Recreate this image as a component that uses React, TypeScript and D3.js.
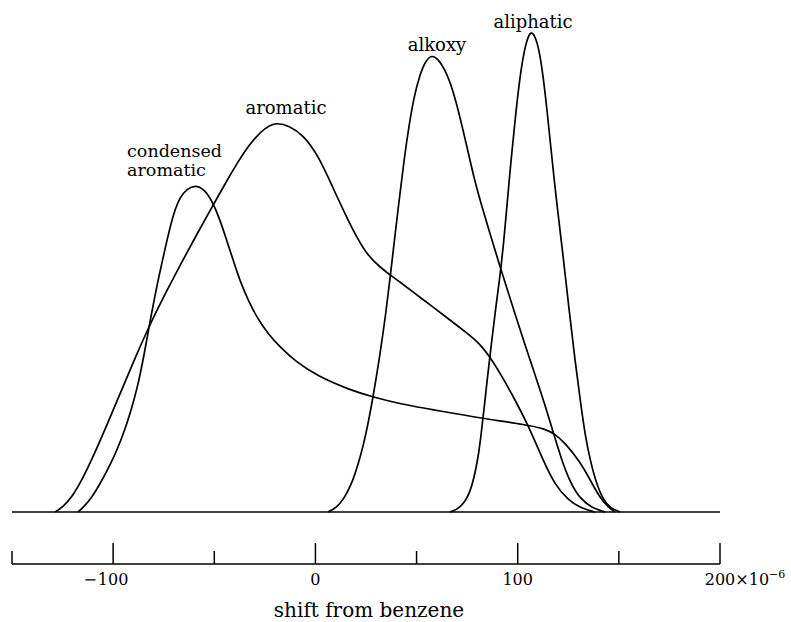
import * as d3 from 'd3';

// shift values (x 10^-6) and relative intensity
const condensedShift = [-117.4, -114.5, -110.4, -106.5, -101.5, -98.1, -94.6, -91.2, -87.7, -84.7, -81.8, -78.8, -75.8, -72.8, -69.9, -66.9, -63.5, -59.5, -55.0, -51.1, -47.7, -44.2, -40.7, -37.3, -33.3, -28.8, -23.4, -17.5, -10.1, 0.8, 17.1, 28.5, 41.8, 61.6, 81.4, 105.1, 113.5, 118.4, 123.4, 130.9, 135.8, 140.7, 144.7, 148.1];
const condensedValue = [0, 1, 3, 5.6, 9.4, 12.4, 16, 20.2, 25.4, 31.4, 38, 44.4, 50, 55.4, 60, 63, 64.6, 65.4, 64.6, 62.2, 59, 54.8, 50.4, 46.2, 42.4, 38.8, 35.6, 33, 30.2, 27.2, 24.4, 23, 21.6, 20.2, 18.8, 17.4, 16.6, 15.6, 13.8, 10, 6.4, 2.8, 1, 0];

const aromaticShift = [-128.7, -124.8, -120.3, -115.4, -109.5, -103.1, -96.6, -89.2, -80.8, -72.8, -65.5, -58.0, -51.1, -44.7, -37.3, -29.9, -21.0, -12.6, -6.1, 1.3, 8.7, 15.6, 20.6, 26.0, 31.9, 36.9, 41.8, 50.2, 58.1, 66.5, 74.9, 81.4, 86.3, 92.7, 98.7, 105.1, 112.5, 118.4, 125.0, 130.9, 138.2];
const aromaticValue = [0, 1, 3, 6.4, 11.4, 17.4, 23.6, 30.8, 38.4, 44.8, 50.4, 56, 61, 65.6, 70.8, 75, 78.2, 77.2, 75.4, 71.4, 64.8, 58.8, 54.8, 51.2, 49, 47.4, 46, 43.4, 41, 38.4, 35.8, 33.6, 31, 26.8, 22.4, 17.4, 10.4, 5.4, 2.4, 0.8, 0];

const alkoxyShift = [6.2, 10.2, 14.1, 18.1, 21.0, 23.5, 26.0, 28.5, 31.9, 34.9, 36.9, 38.9, 41.4, 43.8, 46.3, 48.7, 51.7, 54.7, 57.6, 60.6, 63.6, 66.6, 69.6, 72.5, 75.5, 78.4, 81.9, 85.8, 89.8, 93.8, 98.7, 103.6, 108.6, 113.5, 117.5, 121.4, 125.8, 130.9, 136.8, 143.2];
const alkoxyValue = [0, 0.8, 2.6, 5.8, 9.4, 13, 17.6, 23, 31.4, 40, 46.8, 53.8, 62.4, 70.4, 77.4, 83, 87.6, 90.4, 91.4, 90.6, 88.8, 86, 82, 77.2, 72, 66.8, 61.6, 56.4, 51, 45.8, 39.6, 33.4, 27.4, 21.4, 16, 10.8, 6, 2.6, 0.8, 0];

const aliphaticShift = [66.5, 70.5, 73.9, 76.4, 78.4, 80.4, 81.9, 83.4, 84.9, 86.8, 88.8, 91.2, 93.2, 94.7, 96.7, 98.7, 100.6, 102.6, 104.6, 106.6, 108.6, 110.6, 112.5, 114.5, 117.0, 119.4, 122.4, 125.4, 128.3, 130.9, 133.3, 135.8, 138.8, 142.3, 145.7, 150.6];
const aliphaticValue = [0, 0.6, 2, 4, 6.8, 10.8, 15.4, 20.8, 26.4, 33, 39.8, 47, 54.4, 61.4, 70.4, 78.4, 85.4, 91, 94.6, 96.2, 95.2, 92.4, 87.4, 80.4, 70.4, 61.4, 51.4, 40.4, 30.4, 22.4, 15.4, 10.4, 5.8, 2.4, 0.8, 0];

const shiftTicks = [-150, -100, -50, 0, 50, 100, 150, 200];
const labelledTicks = [-100, 0, 100, 200];

const font = '"DejaVu Serif", serif';

export default function App() {
  const width = 791;
  const height = 622;

  const x = d3.scaleLinear().domain([-150, 200]).range([12, 720]);
  const y = d3.scaleLinear().domain([0, 100]).range([512, 12]);

  const line = d3
    .line<[number, number]>()
    .x(d => x(d[0]))
    .y(d => y(d[1]))
    .curve(d3.curveBasis);

  const curves = [
    d3.zip(condensedShift, condensedValue),
    d3.zip(aromaticShift, aromaticValue),
    d3.zip(alkoxyShift, alkoxyValue),
    d3.zip(aliphaticShift, aliphaticValue),
  ] as [number, number][][];

  const peak = (s: number[], v: number[]) => {
    const i = d3.maxIndex(v);
    return [x(s[i]), y(v[i])];
  };
  const [alkX, alkY] = peak(alkoxyShift, alkoxyValue);
  const [aliX, aliY] = peak(aliphaticShift, aliphaticValue);
  const [aroX, aroY] = peak(aromaticShift, aromaticValue);
  const [conX, conY] = peak(condensedShift, condensedValue);

  const axisY = 564;
  const digitHalf = 15.3;

  return (
    <svg width={width} height={height} style={{ position: 'absolute', left: 0, top: 0, background: '#fff' }}>
      {/* baseline */}
      <line x1={x(-150)} x2={x(200)} y1={y(0)} y2={y(0)} stroke="#000" strokeWidth={1.5} />
      {curves.map((c, i) => (
        <path key={i} d={line(c) || ''} fill="none" stroke="#000" strokeWidth={1.7} />
      ))}

      <g fontFamily={font} fontSize={18} fill="#000">
        <text x={aliX + 2} y={aliY - 3} textAnchor="middle">aliphatic</text>
        <text x={alkX + 5} y={alkY - 4} textAnchor="middle">alkoxy</text>
        <text x={aroX + 13} y={aroY - 7} textAnchor="middle">aromatic</text>
        <text x={conX - 68} y={conY - 28} fontSize={17.5}>condensed</text>
        <text x={conX - 68} y={conY - 9} fontSize={17.5}>aromatic</text>
      </g>

      {/* axis */}
      <line x1={x(-150)} x2={x(200)} y1={axisY} y2={axisY} stroke="#000" strokeWidth={1.5} />
      {shiftTicks.map(t => {
        const long = labelledTicks.includes(t);
        return (
          <line key={t} x1={x(t)} x2={x(t)} y1={axisY} y2={axisY - (long ? 21 : 13)} stroke="#000" strokeWidth={1.5} />
        );
      })}
      <g fontFamily={font} fontSize={16} fill="#000">
        {labelledTicks.map(t => (
          <g key={t}>
            <text x={x(t)} y={axisY + 21} textAnchor="middle">{Math.abs(t)}</text>
            {t < 0 && <text x={x(t) - digitHalf - 1} y={axisY + 21} textAnchor="end">−</text>}
            {t === 200 && (
              <text x={x(t) + digitHalf} y={axisY + 21}>
                ×10<tspan dy={-7} fontSize={11}>−6</tspan>
              </text>
            )}
          </g>
        ))}
      </g>
      <text x={369} y={617} textAnchor="middle" fontFamily={font} fontSize={20} fill="#000">shift from benzene</text>
    </svg>
  );
}
